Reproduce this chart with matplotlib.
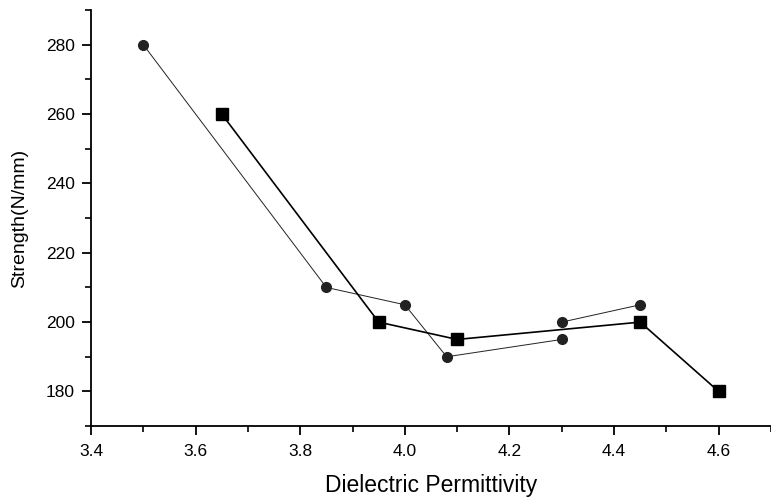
import matplotlib
matplotlib.use("Agg")
import matplotlib.pyplot as plt
from matplotlib.ticker import MultipleLocator

plt.rcParams['font.family'] = ['Liberation Sans', 'DejaVu Sans']

# circle series (two disconnected segments)
circ_x1 = [3.5, 3.85, 4.0, 4.08, 4.3]
circ_y1 = [280, 210, 205, 190, 195]
circ_x2 = [4.3, 4.45]
circ_y2 = [200, 205]

# square series
sq_x = [3.65, 3.95, 4.1, 4.45, 4.6]
sq_y = [260, 200, 195, 200, 180]

xticks = [3.4, 3.6, 3.8, 4.0, 4.2, 4.4, 4.6]
yticks = [180, 200, 220, 240, 260, 280]

fig = plt.figure(figsize=(7.71, 4.99), dpi=100)
ax = fig.add_axes([0.118, 0.146, 0.882, 0.834])

for xs, ys in [(circ_x1, circ_y1), (circ_x2, circ_y2)]:
    ax.plot(xs, ys, color='#222222', lw=0.7, marker='o', markersize=7,
            markerfacecolor='#222222', markeredgecolor='#222222')
ax.plot(sq_x, sq_y, color='black', lw=1.2, marker='s', markersize=8,
        markerfacecolor='black', markeredgecolor='black')

ax.set_xlim(3.4, 4.7)
ax.set_ylim(170, 290)
ax.set_xticks(xticks)
ax.set_xticklabels([f"{v:.1f}" for v in xticks])
ax.set_yticks(yticks)
ax.xaxis.set_minor_locator(MultipleLocator(0.1))
ax.yaxis.set_minor_locator(MultipleLocator(10))

for s in ['top', 'right']:
    ax.spines[s].set_visible(False)
for s in ['left', 'bottom']:
    ax.spines[s].set_linewidth(1.3)

ax.tick_params(which='major', direction='out', length=6.5, width=1.3, labelsize=12.5)
ax.tick_params(axis='x', which='major', pad=6.5)
ax.tick_params(axis='y', which='major', pad=5)
ax.tick_params(which='minor', direction='out', length=4.5, width=1.2)

ax.set_xlabel('Dielectric Permittivity', fontsize=16.5, labelpad=11)
ax.set_ylabel('Strength(N/mm)', fontsize=14, labelpad=13)

fig.savefig('out.png', dpi=100)
